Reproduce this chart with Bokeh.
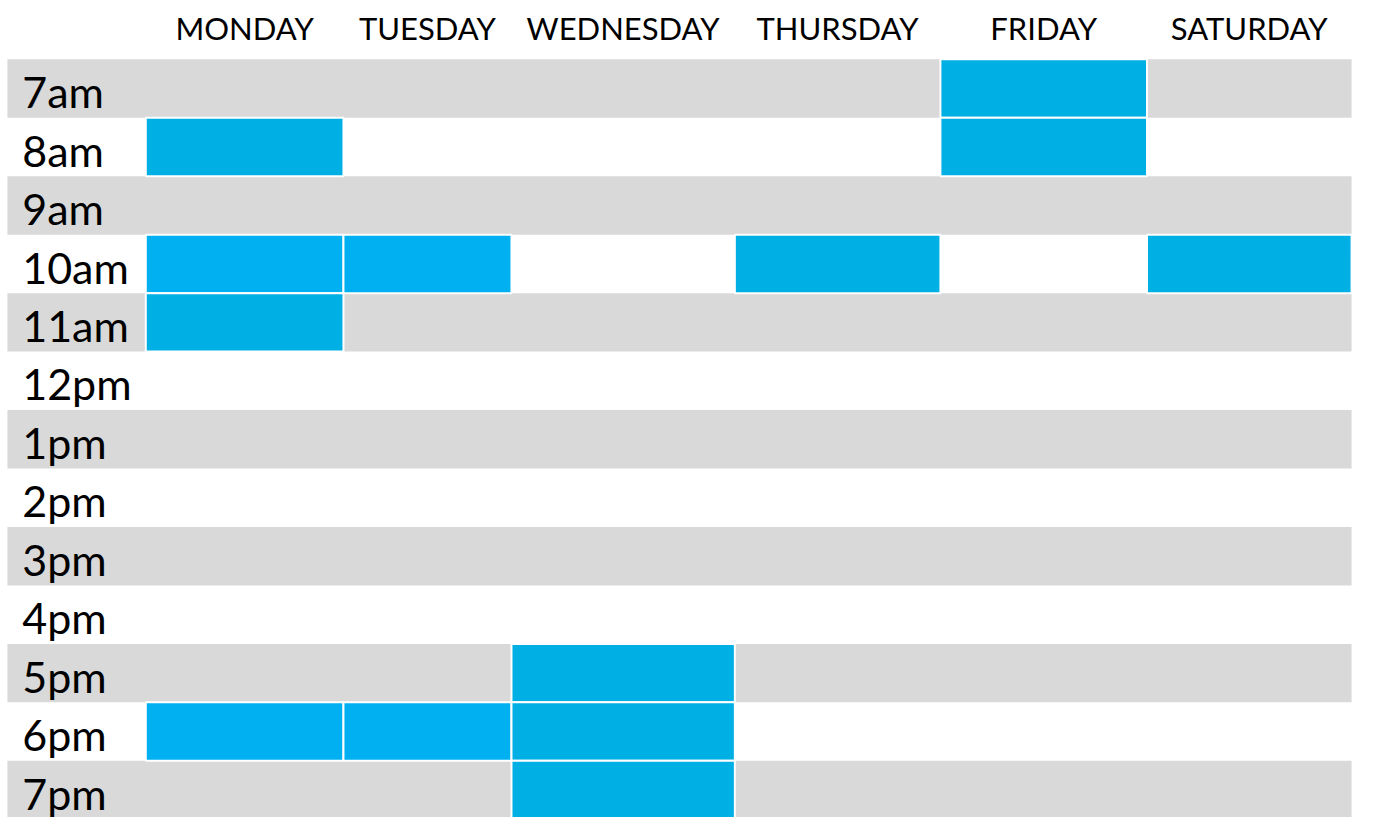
from bokeh.plotting import figure
from bokeh.models import Range1d, ColumnDataSource
from bokeh.core.properties import value
from bokeh.embed import file_html
from bokeh.resources import INLINE

# ---------------- data ----------------
days = ["MONDAY", "TUESDAY", "WEDNESDAY", "THURSDAY", "FRIDAY", "SATURDAY"]
hours = ["7am", "8am", "9am", "10am", "11am", "12pm", "1pm",
         "2pm", "3pm", "4pm", "5pm", "6pm", "7pm"]
booked_day = ["FRIDAY", "MONDAY", "FRIDAY", "MONDAY", "TUESDAY", "THURSDAY",
              "SATURDAY", "MONDAY", "WEDNESDAY", "MONDAY", "TUESDAY",
              "WEDNESDAY", "WEDNESDAY"]
booked_hour = ["7am", "8am", "8am", "10am", "10am", "10am", "10am", "11am",
               "5pm", "6pm", "6pm", "6pm", "7pm"]

# ---------------- layout / style ----------------
W, H = 1357, 817          # figure size in pixels
VW, VH = 1373, 833        # virtual canvas (reference pixel grid)
col_edges = [147, 347, 517, 743, 951, 1160, 1367]   # day column edges
row_top0 = 60.0
row_h = 59.6
table_left = 7
gray = "#D9D9D9"
blue = "#00AFE3"
blue_bright = "#00B0F0"
bright_cells = {("MONDAY", "10am"), ("TUESDAY", "10am"),
                ("MONDAY", "6pm"), ("TUESDAY", "6pm")}

p = figure(width=W, height=H, output_backend="svg", toolbar_location=None,
           x_range=Range1d(0, VW), y_range=Range1d(VH, 0), min_border=0,
           background_fill_color="white", border_fill_color="white")
p.axis.visible = False
p.grid.visible = False
p.outline_line_color = None

# alternating gray rows
g_top, g_bot = [], []
for i, h in enumerate(hours):
    if i % 2 == 0:
        g_top.append(row_top0 + i * row_h)
        g_bot.append(row_top0 + (i + 1) * row_h)
p.quad(left=table_left, right=col_edges[-1], top=g_top, bottom=g_bot,
       fill_color=gray, line_color=None)

# booked cells
bl, br, bt, bb, bc = [], [], [], [], []
for d, h in zip(booked_day, booked_hour):
    di = days.index(d)
    hi = hours.index(h)
    bl.append(col_edges[di])
    br.append(col_edges[di + 1])
    bt.append(row_top0 + hi * row_h)
    bb.append(row_top0 + (hi + 1) * row_h)
    bc.append(blue_bright if (d, h) in bright_cells else blue)
src = ColumnDataSource(dict(left=bl, right=br, top=bt, bottom=bb, color=bc))
p.quad(left="left", right="right", top="top", bottom="bottom", source=src,
       fill_color="color", line_color="white", line_width=2)

# header labels
hx = [(col_edges[i] + col_edges[i + 1]) / 2 for i in range(len(days))]
p.text(x=hx, y=[28] * len(days), text=days, text_font=value("Lato"),
       text_font_size="31px", text_align="center", text_baseline="alphabetic",
       text_color="black")

# hour labels
hy = [row_top0 + i * row_h + 33 for i in range(len(hours))]
p.text(x=[22] * len(hours), y=hy, text=hours, text_font=value("Lato"),
       text_font_size="43px", text_align="left", text_baseline="alphabetic",
       text_color="black")

open("out.html", "w").write(file_html(p, INLINE))
